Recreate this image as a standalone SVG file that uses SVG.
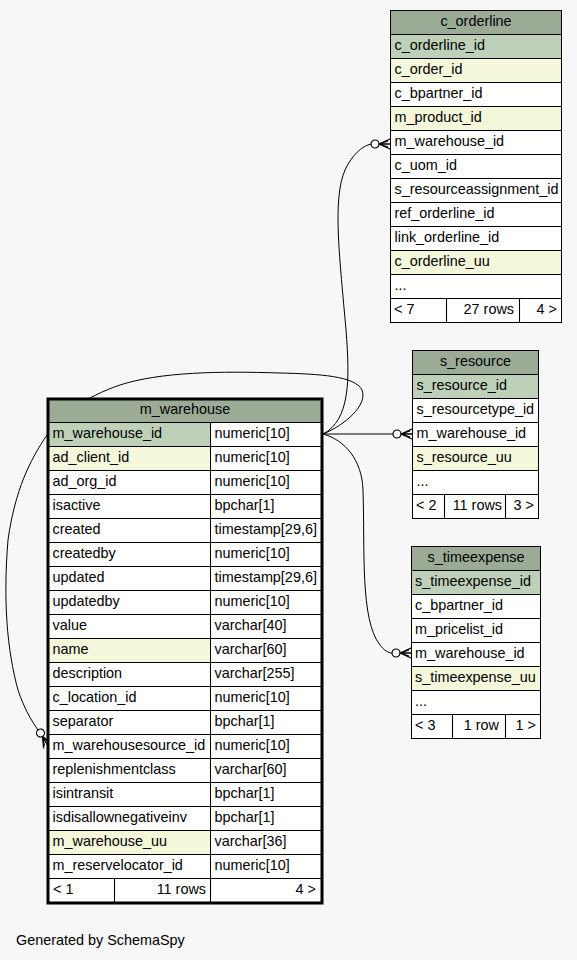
<svg xmlns="http://www.w3.org/2000/svg" xmlns:xlink="http://www.w3.org/1999/xlink" width="577" height="960" viewBox="0 0 577 960">
<style>
text{font-family:"Liberation Sans",Arial,sans-serif;font-size:14.4px;fill:#000}
.c{text-anchor:middle}
.r{text-anchor:end}
.hd{fill:#9bab96;stroke:#000;stroke-width:1}
.pk{fill:#bed1b8;stroke:#000;stroke-width:1}
.ix{fill:#f4f7da;stroke:#000;stroke-width:1}
.w{fill:#ffffff;stroke:#000;stroke-width:1}
.ln{fill:none;stroke:#000;stroke-width:1.1}
.ct{fill:none;stroke:#000;stroke-width:1}
</style>
<defs>
<g id="crowodot">
<circle cx="-15" cy="0" r="4" fill="none" stroke="#000" stroke-width="1.2"/>
<path d="M-11,0 L0,-5 M-11,0 L0,0 M-11,0 L0,5 M-11,0 L-2,-3 M-11,0 L-2,3" fill="none" stroke="#000" stroke-width="1.3"/>
</g>
</defs>
<rect x="0" y="0" width="577" height="960" fill="#f7f7f7"/>

<g id="connectors">
<path class="ct" d="M323,434 C350,420 350,380 346,330 C340,260 332,200 345,170 C352,155 362,146 371,144"/>
<path class="ct" d="M323,434 L393,434"/>
<path class="ct" d="M323,434 C345,440 362,460 363,490 C365,550 360,620 380,645 C384,650 388,653 392,653"/>
<path class="ct" d="M323,434 C345,425 368,405 362,390 C355,376 320,374 280,373 C220,371 160,372 120,385 C85,397 60,415 47,435 C30,460 15,490 8,540 C3,600 7,650 18,690 C24,708 31,720 38,730"/>
<use xlink:href="#crowodot" transform="translate(390,144)"/>
<use xlink:href="#crowodot" transform="translate(412,434)"/>
<use xlink:href="#crowodot" transform="translate(411,653)"/>
<use xlink:href="#crowodot" transform="translate(48,746) rotate(60)"/>
</g>

<g id="c_orderline">
<rect class="hd" x="390.5" y="10.5" width="171" height="24"/>
<text class="c" x="476" y="25.5">c_orderline</text>
<rect class="pk" x="390.5" y="34.5" width="171" height="24"/>
<rect class="ix" x="390.5" y="58.5" width="171" height="24"/>
<rect class="w" x="390.5" y="82.5" width="171" height="24"/>
<rect class="ix" x="390.5" y="106.5" width="171" height="24"/>
<rect class="w" x="390.5" y="130.5" width="171" height="24"/>
<rect class="w" x="390.5" y="154.5" width="171" height="24"/>
<rect class="w" x="390.5" y="178.5" width="171" height="24"/>
<rect class="w" x="390.5" y="202.5" width="171" height="24"/>
<rect class="w" x="390.5" y="226.5" width="171" height="24"/>
<rect class="ix" x="390.5" y="250.5" width="171" height="24"/>
<rect class="w" x="390.5" y="274.5" width="171" height="24"/>
<rect class="w" x="390.5" y="298.5" width="171" height="24"/>
<line class="ln" x1="446.5" y1="298.5" x2="446.5" y2="322.5"/>
<line class="ln" x1="519.5" y1="298.5" x2="519.5" y2="322.5"/>
<text x="394.5" y="49.5">c_orderline_id</text>
<text x="394.5" y="73.5">c_order_id</text>
<text x="394.5" y="97.5">c_bpartner_id</text>
<text x="394.5" y="121.5">m_product_id</text>
<text x="394.5" y="145.5">m_warehouse_id</text>
<text x="394.5" y="169.5">c_uom_id</text>
<text x="394.5" y="193.5">s_resourceassignment_id</text>
<text x="394.5" y="217.5">ref_orderline_id</text>
<text x="394.5" y="241.5">link_orderline_id</text>
<text x="394.5" y="265.5">c_orderline_uu</text>
<text x="394.5" y="289.5">...</text>
<text x="394" y="313.5">&lt; 7</text>
<text class="r" x="514" y="313.5">27 rows</text>
<text class="r" x="557" y="313.5">4 &gt;</text>
</g>

<g id="s_resource">
<rect class="hd" x="412.5" y="350.5" width="126" height="24"/>
<text class="c" x="475.5" y="365.5">s_resource</text>
<rect class="pk" x="412.5" y="374.5" width="126" height="24"/>
<rect class="w" x="412.5" y="398.5" width="126" height="24"/>
<rect class="w" x="412.5" y="422.5" width="126" height="24"/>
<rect class="ix" x="412.5" y="446.5" width="126" height="24"/>
<rect class="w" x="412.5" y="470.5" width="126" height="24"/>
<rect class="w" x="412.5" y="494.5" width="126" height="24"/>
<line class="ln" x1="444.5" y1="494.5" x2="444.5" y2="518.5"/>
<line class="ln" x1="505.5" y1="494.5" x2="505.5" y2="518.5"/>
<text x="416.5" y="389.5">s_resource_id</text>
<text x="416.5" y="413.5">s_resourcetype_id</text>
<text x="416.5" y="437.5">m_warehouse_id</text>
<text x="416.5" y="461.5">s_resource_uu</text>
<text x="416.5" y="485.5">...</text>
<text x="416" y="509.5">&lt; 2</text>
<text class="r" x="502" y="509.5">11 rows</text>
<text class="r" x="534" y="509.5">3 &gt;</text>
</g>

<g id="s_timeexpense">
<rect class="hd" x="411.5" y="546.5" width="129" height="24"/>
<text class="c" x="476" y="561.5">s_timeexpense</text>
<rect class="pk" x="411.5" y="570.5" width="129" height="24"/>
<rect class="w" x="411.5" y="594.5" width="129" height="24"/>
<rect class="w" x="411.5" y="618.5" width="129" height="24"/>
<rect class="w" x="411.5" y="642.5" width="129" height="24"/>
<rect class="ix" x="411.5" y="666.5" width="129" height="24"/>
<rect class="w" x="411.5" y="690.5" width="129" height="24"/>
<rect class="w" x="411.5" y="714.5" width="129" height="24"/>
<line class="ln" x1="452.5" y1="714.5" x2="452.5" y2="738.5"/>
<line class="ln" x1="505.5" y1="714.5" x2="505.5" y2="738.5"/>
<text x="415" y="585.5">s_timeexpense_id</text>
<text x="415" y="609.5">c_bpartner_id</text>
<text x="415" y="633.5">m_pricelist_id</text>
<text x="415" y="657.5">m_warehouse_id</text>
<text x="415" y="681.5">s_timeexpense_uu</text>
<text x="415" y="705.5">...</text>
<text x="415" y="729.5">&lt; 3</text>
<text class="r" x="499" y="729.5">1 row</text>
<text class="r" x="536" y="729.5">1 &gt;</text>
</g>

<g id="m_warehouse">
<rect class="hd" x="48.5" y="398.5" width="273" height="24"/>
<text class="c" x="185" y="414">m_warehouse</text>
<rect class="pk" x="48.5" y="422.5" width="162" height="24"/>
<rect class="ix" x="48.5" y="446.5" width="162" height="24"/>
<rect class="ix" x="48.5" y="638.5" width="162" height="24"/>
<rect class="ix" x="48.5" y="830.5" width="162" height="24"/>
<g class="w">
<rect x="48.5" y="470.5" width="162" height="24"/>
<rect x="48.5" y="494.5" width="162" height="24"/>
<rect x="48.5" y="518.5" width="162" height="24"/>
<rect x="48.5" y="542.5" width="162" height="24"/>
<rect x="48.5" y="566.5" width="162" height="24"/>
<rect x="48.5" y="590.5" width="162" height="24"/>
<rect x="48.5" y="614.5" width="162" height="24"/>
<rect x="48.5" y="662.5" width="162" height="24"/>
<rect x="48.5" y="686.5" width="162" height="24"/>
<rect x="48.5" y="710.5" width="162" height="24"/>
<rect x="48.5" y="734.5" width="162" height="24"/>
<rect x="48.5" y="758.5" width="162" height="24"/>
<rect x="48.5" y="782.5" width="162" height="24"/>
<rect x="48.5" y="806.5" width="162" height="24"/>
<rect x="48.5" y="854.5" width="162" height="24"/>
<rect x="210.5" y="422.5" width="111" height="24"/>
<rect x="210.5" y="446.5" width="111" height="24"/>
<rect x="210.5" y="470.5" width="111" height="24"/>
<rect x="210.5" y="494.5" width="111" height="24"/>
<rect x="210.5" y="518.5" width="111" height="24"/>
<rect x="210.5" y="542.5" width="111" height="24"/>
<rect x="210.5" y="566.5" width="111" height="24"/>
<rect x="210.5" y="590.5" width="111" height="24"/>
<rect x="210.5" y="614.5" width="111" height="24"/>
<rect x="210.5" y="638.5" width="111" height="24"/>
<rect x="210.5" y="662.5" width="111" height="24"/>
<rect x="210.5" y="686.5" width="111" height="24"/>
<rect x="210.5" y="710.5" width="111" height="24"/>
<rect x="210.5" y="734.5" width="111" height="24"/>
<rect x="210.5" y="758.5" width="111" height="24"/>
<rect x="210.5" y="782.5" width="111" height="24"/>
<rect x="210.5" y="806.5" width="111" height="24"/>
<rect x="210.5" y="830.5" width="111" height="24"/>
<rect x="210.5" y="854.5" width="111" height="24"/>
<rect x="48.5" y="878.5" width="273" height="24"/>
</g>
<line class="ln" x1="114.5" y1="878.5" x2="114.5" y2="902.5"/>
<line class="ln" x1="210.5" y1="878.5" x2="210.5" y2="902.5"/>
<rect x="48" y="399" width="274" height="504" fill="none" stroke="#000" stroke-width="3"/>
<text x="52.5" y="437.5">m_warehouse_id</text><text x="214.5" y="437.5">numeric[10]</text>
<text x="52.5" y="461.5">ad_client_id</text><text x="214.5" y="461.5">numeric[10]</text>
<text x="52.5" y="485.5">ad_org_id</text><text x="214.5" y="485.5">numeric[10]</text>
<text x="52.5" y="509.5">isactive</text><text x="214.5" y="509.5">bpchar[1]</text>
<text x="52.5" y="533.5">created</text><text x="214.5" y="533.5">timestamp[29,6]</text>
<text x="52.5" y="557.5">createdby</text><text x="214.5" y="557.5">numeric[10]</text>
<text x="52.5" y="581.5">updated</text><text x="214.5" y="581.5">timestamp[29,6]</text>
<text x="52.5" y="605.5">updatedby</text><text x="214.5" y="605.5">numeric[10]</text>
<text x="52.5" y="629.5">value</text><text x="214.5" y="629.5">varchar[40]</text>
<text x="52.5" y="653.5">name</text><text x="214.5" y="653.5">varchar[60]</text>
<text x="52.5" y="677.5">description</text><text x="214.5" y="677.5">varchar[255]</text>
<text x="52.5" y="701.5">c_location_id</text><text x="214.5" y="701.5">numeric[10]</text>
<text x="52.5" y="725.5">separator</text><text x="214.5" y="725.5">bpchar[1]</text>
<text x="52.5" y="749.5">m_warehousesource_id</text><text x="214.5" y="749.5">numeric[10]</text>
<text x="52.5" y="773.5">replenishmentclass</text><text x="214.5" y="773.5">varchar[60]</text>
<text x="52.5" y="797.5">isintransit</text><text x="214.5" y="797.5">bpchar[1]</text>
<text x="52.5" y="821.5">isdisallownegativeinv</text><text x="214.5" y="821.5">bpchar[1]</text>
<text x="52.5" y="845.5">m_warehouse_uu</text><text x="214.5" y="845.5">varchar[36]</text>
<text x="52.5" y="869.5">m_reservelocator_id</text><text x="214.5" y="869.5">numeric[10]</text>
<text x="53" y="893.5">&lt; 1</text>
<text class="r" x="206" y="893.5">11 rows</text>
<text class="r" x="316" y="893.5">4 &gt;</text>
</g>

<text x="16" y="945">Generated by SchemaSpy</text>
</svg>
